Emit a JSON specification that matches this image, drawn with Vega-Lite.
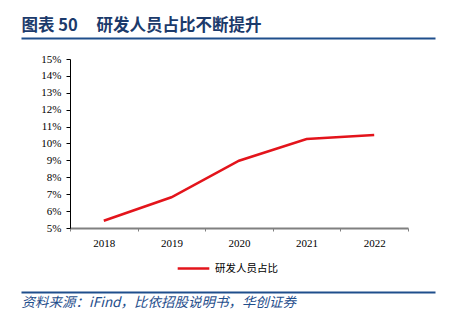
{
  "$schema": "https://vega.github.io/schema/vega-lite/v6.json",
  "padding": {"left": 21, "top": 17, "right": 14, "bottom": 5},
  "background": "white",
  "config": {"view": {"stroke": null}},
  "bounds": "flush",
  "spacing": 20,
  "vconcat": [
    {
      "width": 414,
      "height": 1,
      "data": {"values": [{"p": 0.5}]},
      "mark": {"type": "point", "opacity": 0},
      "encoding": {
        "x": {
          "field": "p", "type": "quantitative",
          "scale": {"domain": [0, 1], "nice": false},
          "axis": {
            "orient": "top", "labels": false, "ticks": false, "grid": false,
            "domainColor": "#1F4E8C", "domainWidth": 2,
            "title": "图表 50\u00a0\u00a0\u00a0\u00a0\u00a0研发人员占比不断提升",
            "titleAnchor": "start", "titleFont": "Noto Sans CJK SC",
            "titleFontSize": 16.5, "titleFontWeight": "bold",
            "titleColor": "#1B3A6B", "titlePadding": 5
          }
        }
      }
    },
    {
      "width": 387,
      "height": 169,
      "data": {"values": [
        {"year": "2018", "share": 0.0543, "series": "研发人员占比"},
        {"year": "2019", "share": 0.0682, "series": "研发人员占比"},
        {"year": "2020", "share": 0.0898, "series": "研发人员占比"},
        {"year": "2021", "share": 0.1027, "series": "研发人员占比"},
        {"year": "2022", "share": 0.1050, "series": "研发人员占比"}
      ]},
      "mark": {"type": "line", "strokeWidth": 2.5},
      "encoding": {
        "x": {
          "field": "year", "type": "ordinal",
          "scale": {"type": "band", "range": [49, 387], "paddingInner": 0, "paddingOuter": 0},
          "axis": {
            "title": null, "tickBand": "extent", "labelAngle": 0,
            "domainColor": "#808080", "domainWidth": 2,
            "tickColor": "#808080", "tickSize": 3, "tickWidth": 1,
            "labelFont": "Liberation Serif", "labelFontSize": 11,
            "labelColor": "#000000", "labelPadding": 6, "grid": false
          }
        },
        "y": {
          "field": "share", "type": "quantitative",
          "scale": {"domain": [0.05, 0.15], "nice": false},
          "axis": {
            "title": null, "offset": -49,
            "values": [0.05, 0.06, 0.07, 0.08, 0.09, 0.10, 0.11, 0.12, 0.13, 0.14, 0.15],
            "format": ".0%", "grid": false,
            "domainColor": "#000000", "tickColor": "#000000", "tickSize": 4,
            "labelFont": "Liberation Serif", "labelFontSize": 11,
            "labelColor": "#000000", "labelPadding": 5
          }
        },
        "color": {
          "field": "series", "type": "nominal",
          "scale": {"range": ["#E3141B"]},
          "legend": {
            "orient": "none", "legendX": 155, "legendY": 213,
            "title": null, "direction": "horizontal",
            "symbolType": "stroke", "symbolSize": 1000, "symbolStrokeWidth": 2.5,
            "labelFont": "Noto Sans CJK SC", "labelFontSize": 10.5, "labelColor": "#000000"
          }
        }
      }
    },
    {
      "width": 414,
      "height": 44,
      "data": {"values": [{"p": 0.5}]},
      "mark": {"type": "point", "opacity": 0},
      "encoding": {
        "x": {
          "field": "p", "type": "quantitative",
          "scale": {"domain": [0, 1], "nice": false},
          "axis": {
            "orient": "bottom", "labels": false, "ticks": false, "grid": false,
            "domainColor": "#1F4E8C", "domainWidth": 2,
            "title": "资料来源：iFind，比依招股说明书，华创证券",
            "titleAnchor": "start", "titleFont": "Noto Sans CJK SC",
            "titleFontSize": 13.5, "titleFontWeight": "normal", "titleFontStyle": "italic",
            "titleColor": "#1F4E8C", "titlePadding": 3
          }
        }
      }
    }
  ]
}
